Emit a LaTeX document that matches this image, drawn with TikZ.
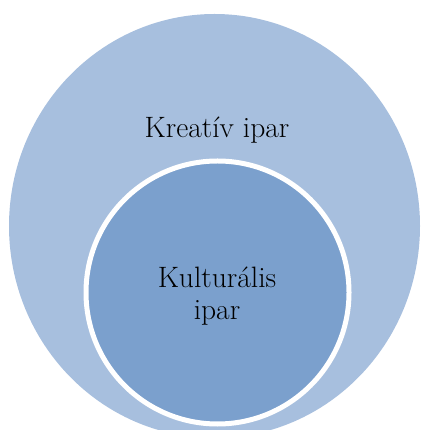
\documentclass[tikz,border=0pt]{standalone}
\usepackage{fontspec}
\setmainfont{Latin Modern Roman}
\definecolor{outerblue}{HTML}{A7BFDE}
\definecolor{innerblue}{HTML}{7BA0CD}
\begin{document}
\begin{tikzpicture}[x=1pt,y=1pt,
  lbl/.style={font=\fontsize{29.5}{35}\selectfont, text=black, align=center, inner sep=0pt}]
\useasboundingbox (0,0) rectangle (420,430);
\clip (0,0) rectangle (420,430);
\fill[outerblue] (214.5,204) ellipse [x radius=205.5, y radius=212];
\filldraw[fill=innerblue, draw=white, line width=5pt] (217.5,137.5) circle (131.5);
\node[lbl, anchor=base] (kreativ) at (217,292) {Kreatív ipar};
\node[lbl, anchor=base] (kult) at (217,142) {Kulturális};
\node[lbl, anchor=base] (ipar) at (217,110) {ipar};
\end{tikzpicture}
\end{document}
